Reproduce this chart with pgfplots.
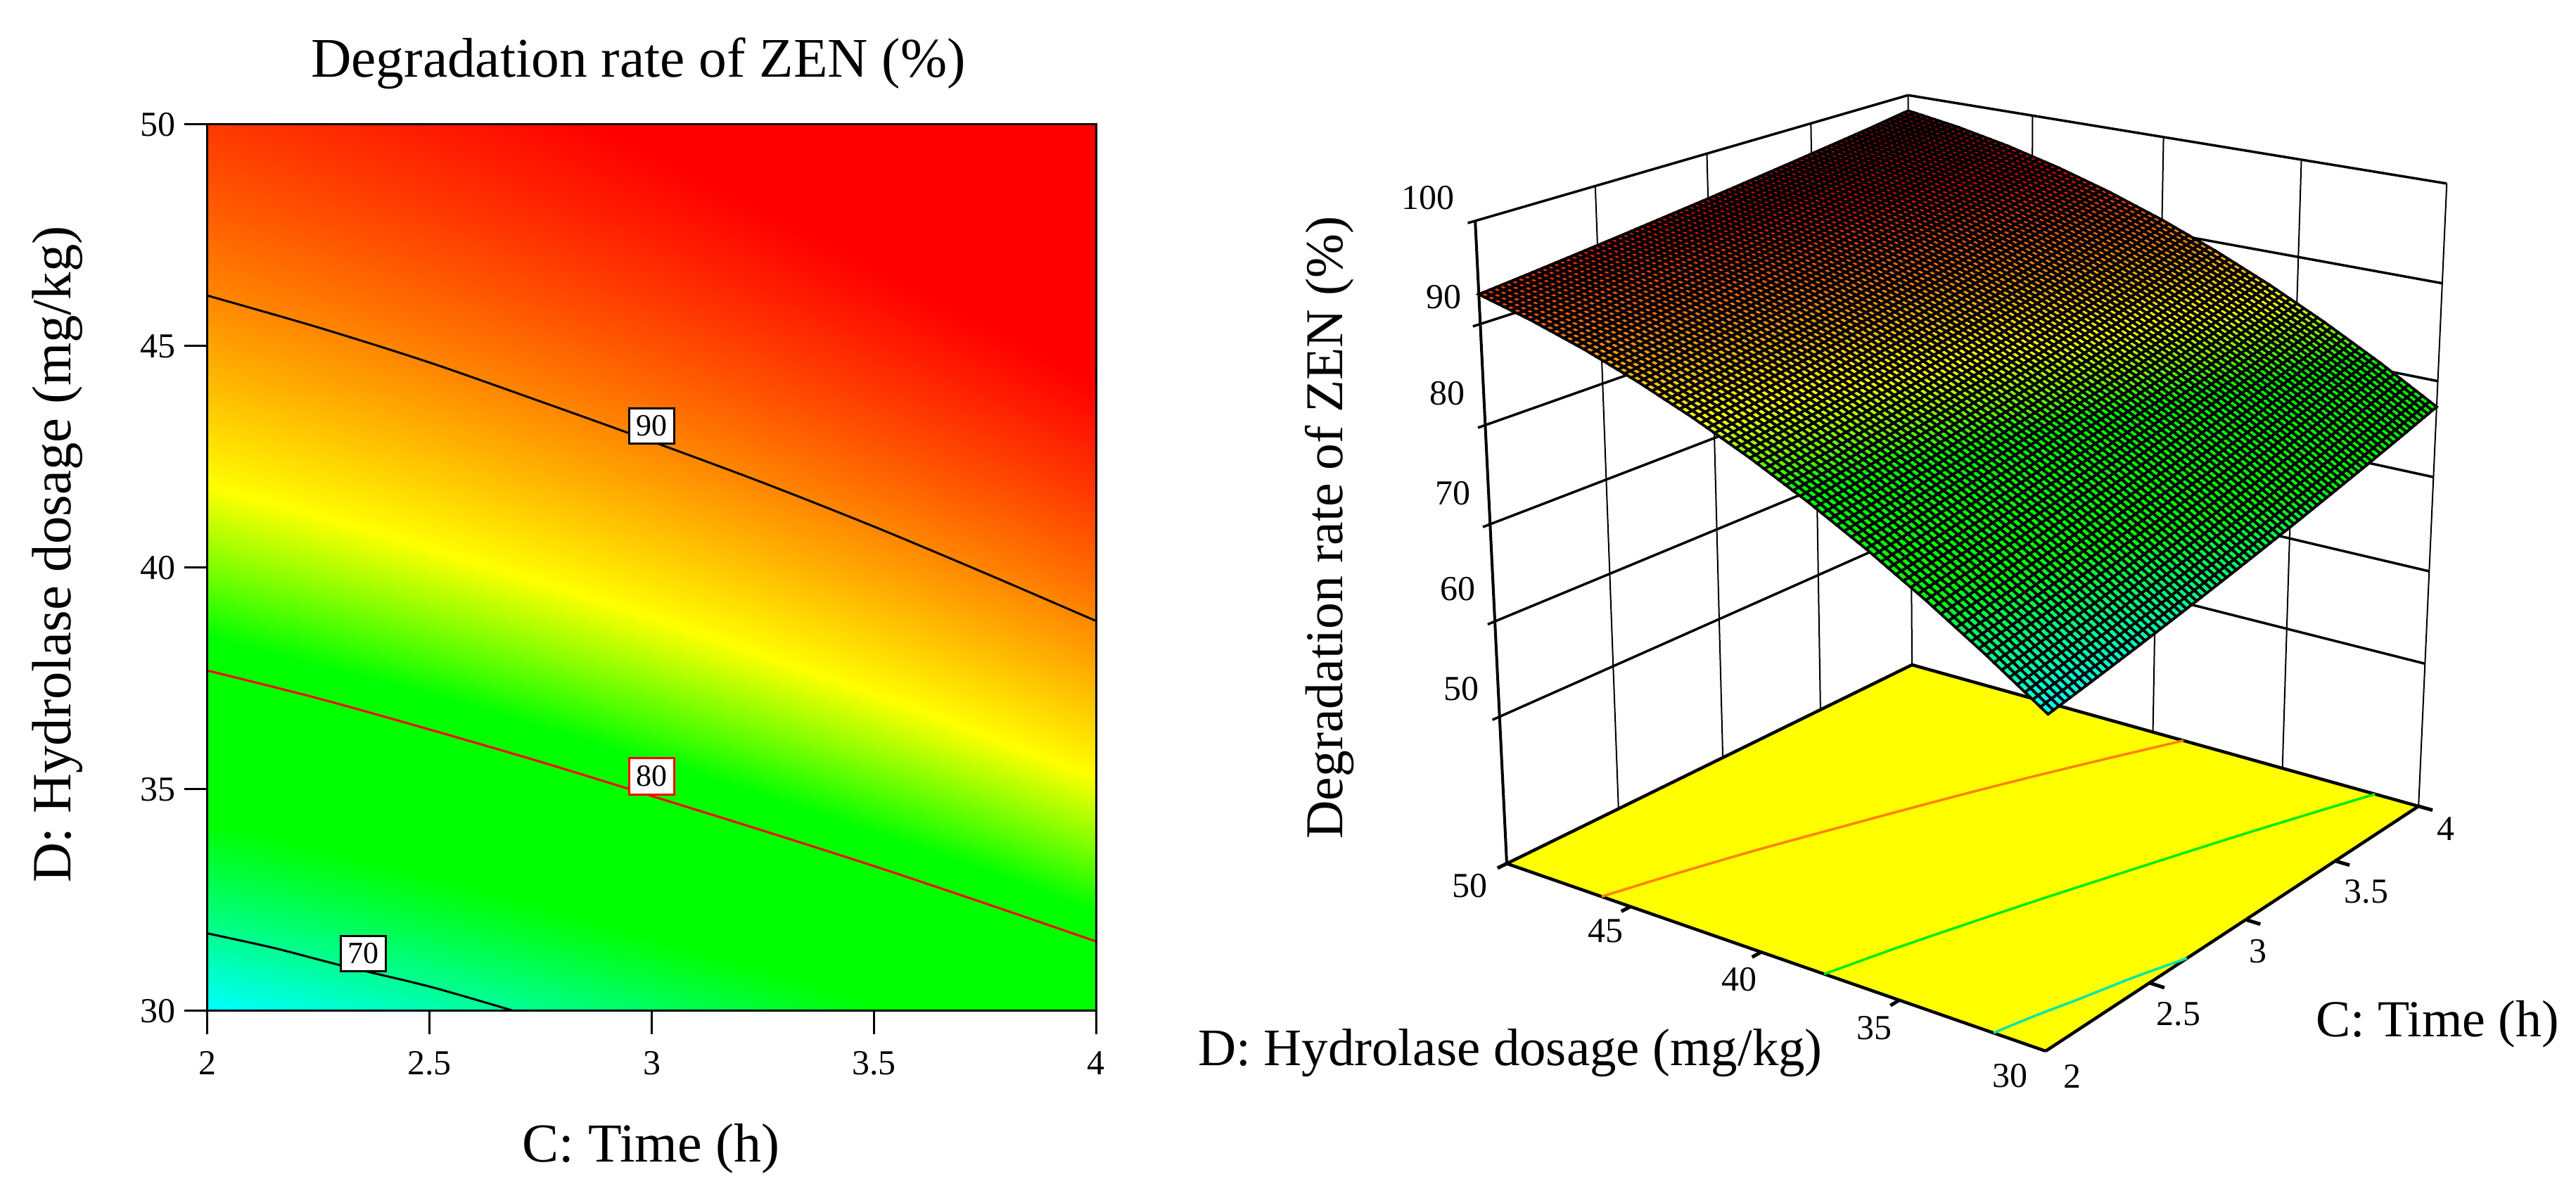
\documentclass[border=0pt]{standalone}
\usepackage{fontspec}
\setmainfont{Liberation Serif}
\usepackage{pgfplots}
\usepackage{pgfplotstable}
\usepgfplotslibrary{patchplots}
\pgfplotsset{compat=1.18}
\definecolor{floorY}{RGB}{255,255,0}
% response surface: C = time (h), D = dosage (mg/kg), Z = degradation rate (%)
\pgfplotstableread{
C D Z
2.0 30 66.58
2.0 32 70.47
2.0 34 74.08
2.0 36 77.42
2.0 38 80.47
2.0 40 83.24
2.0 42 85.73
2.0 44 87.94
2.0 46 89.88
2.0 48 91.53
2.0 50 92.90
2.2 30 67.49
2.2 32 71.34
2.2 34 74.90
2.2 36 78.19
2.2 38 81.19
2.2 40 83.92
2.2 42 86.37
2.2 44 88.53
2.2 46 90.42
2.2 48 92.02
2.2 50 93.35
2.4 30 68.43
2.4 32 72.23
2.4 34 75.75
2.4 36 78.99
2.4 38 81.95
2.4 40 84.63
2.4 42 87.03
2.4 44 89.15
2.4 46 90.99
2.4 48 92.55
2.4 50 93.83
2.6 30 69.42
2.6 32 73.17
2.6 34 76.64
2.6 36 79.83
2.6 38 82.74
2.6 40 85.37
2.6 42 87.72
2.6 44 89.79
2.6 46 91.58
2.6 48 93.09
2.6 50 94.32
2.8 30 70.44
2.8 32 74.14
2.8 34 77.56
2.8 36 80.70
2.8 38 83.56
2.8 40 86.14
2.8 42 88.44
2.8 44 90.46
2.8 46 92.20
2.8 48 93.66
2.8 50 94.84
3.0 30 71.50
3.0 32 75.15
3.0 34 78.51
3.0 36 81.60
3.0 38 84.40
3.0 40 86.93
3.0 42 89.18
3.0 44 91.14
3.0 46 92.83
3.0 48 94.23
3.0 50 95.36
3.2 30 72.59
3.2 32 76.18
3.2 34 79.49
3.2 36 82.53
3.2 38 85.28
3.2 40 87.75
3.2 42 89.94
3.2 44 91.85
3.2 46 93.49
3.2 48 94.84
3.2 50 95.91
3.4 30 73.73
3.4 32 77.26
3.4 34 80.52
3.4 36 83.49
3.4 38 86.19
3.4 40 88.60
3.4 42 90.73
3.4 44 92.59
3.4 46 94.16
3.4 48 95.46
3.4 50 96.47
3.6 30 74.89
3.6 32 78.37
3.6 34 81.56
3.6 36 84.48
3.6 38 87.11
3.6 40 89.47
3.6 42 91.55
3.6 44 93.34
3.6 46 94.86
3.6 48 96.09
3.6 50 97.05
3.8 30 76.10
3.8 32 79.51
3.8 34 82.65
3.8 36 85.50
3.8 38 88.08
3.8 40 90.37
3.8 42 92.38
3.8 44 94.12
3.8 46 95.57
3.8 48 96.75
3.8 50 97.64
4.0 30 77.34
4.0 32 80.69
4.0 34 83.76
4.0 36 86.56
4.0 38 89.07
4.0 40 91.30
4.0 42 93.25
4.0 44 94.92
4.0 46 96.32
4.0 48 97.44
4.0 50 98.30
}\zen
\pgfplotstableread{
C D V
2 46.14 90
2.25 45.42 90
2.5 44.63 90
2.75 43.75 90
3 42.85 90
3.25 41.92 90
3.5 40.93 90
3.75 39.88 90
4 38.8 90
}\cninety
\pgfplotstableread{
C D V
2 37.68 80
2.25 37.05 80
2.5 36.35 80
2.75 35.62 80
3 34.85 80
3.25 34.07 80
3.5 33.27 80
3.75 32.43 80
4 31.57 80
}\ceighty
\pgfplotstableread{
C D V
2 31.75 70
2.15 31.42 70
2.3 31.03 70
2.5 30.55 70
2.69 30 70
}\cseventy
% camera of the right-hand panel (C, D, Z to picture position)
\newcommand\pd[3]{(1+0.1589*(#1-2)/2+0.1188*(#2-30)/20-0.07*(#3-34.2)/65.8)}
\newcommand\px[3]{((2908+1076.4*(#1-2)/2-511.6*(#2-30)/20-197*(#3-34.2)/65.8)/\pd{#1}{#2}{#3})}
\newcommand\py[3]{((1494-165.9*(#1-2)/2-120.7*(#2-30)/20-1044*(#3-34.2)/65.8)/\pd{#1}{#2}{#3})}
\newcommand\seg[7]{\addplot[#1,forget plot] table[row sep=\\,
  x expr={\px{\thisrow{C}}{\thisrow{D}}{\thisrow{Z}}},
  y expr={\py{\thisrow{C}}{\thisrow{D}}{\thisrow{Z}}}]{C D Z\\#2 #3 #4\\#5 #6 #7\\};}
\newcommand\floorline[2]{\addplot[#1,line width=.035cm,smooth,forget plot] table[
  x expr={\px{\thisrow{C}}{\thisrow{D}}{34.2}},
  y expr={\py{\thisrow{C}}{\thisrow{D}}{34.2}}]{#2};}
\pgfplotsset{
  colormap={zen}{rgb255(0)=(0,255,255) rgb255(16)=(0,255,0) rgb255(29)=(0,255,0) rgb255(38)=(255,255,0) rgb255(57)=(255,0,0) rgb255(67)=(255,0,0)},
  colormap name=zen}
\newcommand\fs[1]{\fontsize{#1}{#1}\selectfont}
\newcommand\tl[3]{\node[font=\fs{14.2}] at (axis cs:#2,#3) {#1};}
\begin{document}
\begin{tikzpicture}
\useasboundingbox (0,0) rectangle (36.62cm,17cm);
\begin{axis}[name=canvas,at={(0,0)},anchor=south west,scale only axis,width=36.62cm,height=17cm,
  xmin=0,xmax=3662,ymin=0,ymax=1700,y dir=reverse,hide axis,clip=false,
  point meta min=66.58,point meta max=100]
% floor
\addplot[fill=floorY,draw=black,line width=.045cm,forget plot] table[
  x expr={\px{\thisrow{C}}{\thisrow{D}}{34.2}},
  y expr={\py{\thisrow{C}}{\thisrow{D}}{34.2}},row sep=\\]
  {C D\\2 30\\4 30\\4 50\\2 50\\2 30\\};
\floorline{color={rgb,255:red,255;green,130;blue,0}}{\cninety}
\floorline{color={rgb,255:red,0;green,235;blue,0}}{\ceighty}
\floorline{color={rgb,255:red,0;green,230;blue,170}}{\cseventy}
% walls: horizontal z lines
\pgfplotsinvokeforeach{50,60,70,80,90,100}{
  \seg{black,line width=.035cm}{1.97}{50}{#1}{4}{50}{#1}
  \seg{black,line width=.035cm}{4}{50}{#1}{4}{30}{#1}
}
% walls: vertical lines
\pgfplotsinvokeforeach{2.5,3,3.5,4}{
  \seg{black,line width=.02cm}{#1}{50}{34.2}{#1}{50}{100}
}
\pgfplotsinvokeforeach{30,35,40,45}{
  \seg{black,line width=.02cm}{4}{#1}{34.2}{4}{#1}{100}
}
\seg{black,line width=.04cm}{2}{50}{34.2}{2}{50}{100}
% floor ticks
\pgfplotsinvokeforeach{2.5,3,3.5,4}{
  \seg{black,line width=.05cm}{#1}{30}{34.2}{#1}{29.5}{34.2}
}
\pgfplotsinvokeforeach{35,40,45,50}{
  \seg{black,line width=.05cm}{2}{#1}{34.2}{1.96}{#1}{34.2}
}
% response surface
\addplot[surf,shader=faceted,faceted color=black,line width=.038cm,mesh/rows=11,mesh/cols=11,
  patch refines=3,point meta=\thisrow{Z}] table[
  x expr={\px{\thisrow{C}}{\thisrow{D}}{\thisrow{Z}}},
  y expr={\py{\thisrow{C}}{\thisrow{D}}{\thisrow{Z}}}]{\zen};
% texts
\node[rotate=90,font=\fs{21.5}] at (axis cs:1890,750) {Degradation rate of ZEN (\%)};
\node[font=\fs{21.3}] at (axis cs:2147,1497) {D: Hydrolase dosage (mg/kg)};
\node[font=\fs{21}] at (axis cs:3465,1456) {C: Time (h)};
\tl{100}{2030}{281}\tl{90}{2052}{422}\tl{80}{2057}{559}\tl{70}{2065}{701}\tl{60}{2072}{837}\tl{50}{2077}{979}
\tl{50}{2089}{1259}\tl{45}{2282}{1323}\tl{40}{2472}{1392}\tl{35}{2664}{1461}\tl{30}{2857}{1529}
\tl{2}{2946}{1530}\tl{2.5}{3097}{1441}\tl{3}{3210}{1352}\tl{3.5}{3364}{1267}\tl{4}{3477}{1178}
\end{axis}
\begin{axis}[at={(2.95cm,2.63cm)},anchor=south west,scale only axis,width=12.63cm,height=12.6cm,
  xmin=2,xmax=4,ymin=30,ymax=50,xtick={2,2.5,3,3.5,4},ytick={30,35,40,45,50},
  xticklabels={2,2.5,3,3.5,4},
  xtick pos=bottom,ytick pos=left,tick align=outside,major tick length=.33cm,
  /pgf/number format/assume math mode=true,
  tick style={black,line width=.03cm},axis line style={line width=.03cm},
  ticklabel style={font=\fs{14.2}},xticklabel style={yshift=-.12cm},
  axis on top,
  point meta min=66.58,point meta max=100,
  title={Degradation rate of ZEN (\%)},title style={at={(axis description cs:.485,1.052)},anchor=center,font=\fs{22.6}},
  xlabel={C: Time (h)},ylabel={D: Hydrolase dosage (mg/kg)},
  every axis x label/.style={at={(axis description cs:.4994,-.1556)},anchor=center,font=\fs{22.2}},
  every axis y label/.style={at={(axis description cs:-.169,.515)},anchor=center,rotate=90,font=\fs{22.4}}]
\addplot[surf,shader=interp,mesh/rows=11,mesh/cols=11,point meta=\thisrow{Z}] table[x=C,y=D]{\zen};
\addplot[black,line width=.03cm,smooth] table[x=C,y=D]{\cninety};
\addplot[red,line width=.03cm,smooth] table[x=C,y=D]{\ceighty};
\addplot[black,line width=.03cm,smooth] table[x=C,y=D]{\cseventy};
\node[fill=white,draw=black,line width=.03cm,minimum width=.64cm,minimum height=.5cm,inner sep=0pt,font=\fs{12.5}] at (axis cs:3,43.2) {90};
\node[fill=white,draw=red,line width=.03cm,minimum width=.64cm,minimum height=.52cm,inner sep=0pt,font=\fs{12.5}] at (axis cs:3,35.3) {80};
\node[fill=white,draw=black,line width=.03cm,minimum width=.64cm,minimum height=.5cm,inner sep=0pt,font=\fs{12.5}] at (axis cs:2.35,31.3) {70};
\draw[black,line width=.03cm] (axis cs:2,30) -- ++(0,-.36cm);
\draw[black,line width=.03cm] (axis cs:2.5,30) -- ++(0,-.36cm);
\draw[black,line width=.03cm] (axis cs:3,30) -- ++(0,-.36cm);
\draw[black,line width=.03cm] (axis cs:3.5,30) -- ++(0,-.36cm);
\draw[black,line width=.03cm] (axis cs:4,30) -- ++(0,-.36cm);
\end{axis}
\end{tikzpicture}
\end{document}
